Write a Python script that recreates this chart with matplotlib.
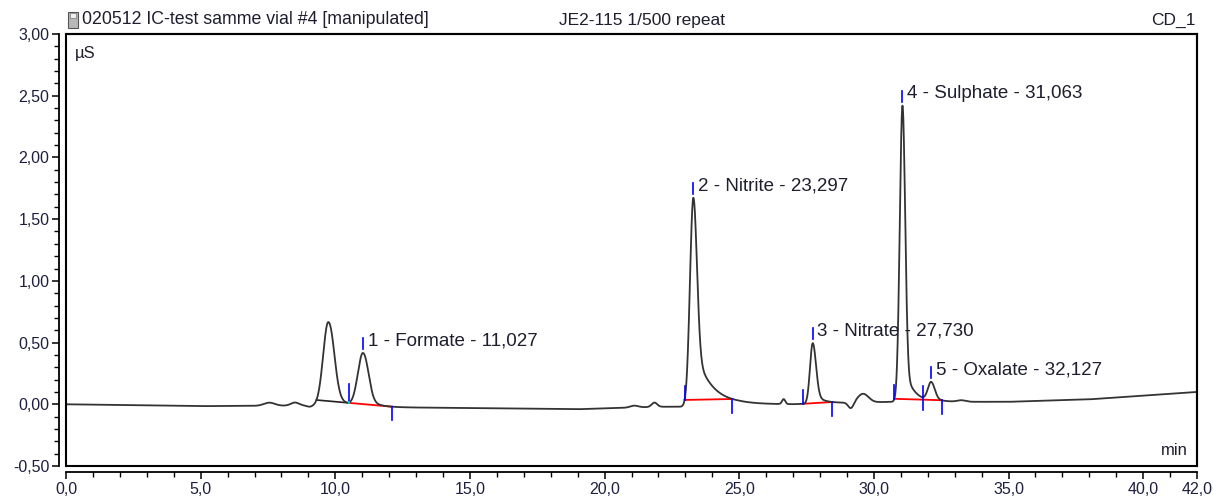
import numpy as np
import matplotlib
matplotlib.use("Agg")
import matplotlib.pyplot as plt
from matplotlib.ticker import MultipleLocator, FixedLocator, FuncFormatter
from matplotlib.patches import Rectangle

plt.rcParams['font.family'] = ['Liberation Sans', 'DejaVu Sans']

# ---------------- data ----------------
header_left = "020512 IC-test samme vial #4 [manipulated]"
header_mid = "JE2-115 1/500 repeat"
header_right = "CD_1"
y_unit = "µS"
x_unit = "min"

# baseline drift knots (min, µS)
base_t = [0.0, 5.0, 9.0, 12.0, 15.0, 19.0, 22.0, 23.0, 25.0, 27.0, 28.5, 30.7, 33.0, 35.0, 38.0, 42.0]
base_v = [0.0, -0.015, -0.01, -0.025, -0.03, -0.04, -0.02, -0.02, 0.0, 0.0, 0.01, 0.02, 0.02, 0.02, 0.04, 0.10]

# chromatographic peaks (retention time, height above baseline, shape)
peak_rt = [9.74, 11.027, 23.297, 27.730, 31.063, 32.127]
peak_h = [0.68, 0.43, 1.69, 0.49, 2.40, 0.15]
peak_sl = [0.19, 0.19, 0.125, 0.10, 0.10, 0.12]
peak_sr = [0.20, 0.19, 0.13, 0.12, 0.10, 0.13]
tail_a = [0.15, 0.08, 0.51, 0.10, 0.37, 0.03]
tail_tau = [0.40, 0.40, 0.60, 0.30, 0.31, 0.30]

# small baseline disturbances
bump_t = [7.55, 8.50, 9.05, 21.10, 21.85, 26.65, 29.15, 29.60, 33.25]
bump_h = [0.025, 0.025, -0.01, 0.015, 0.035, 0.04, -0.05, 0.07, 0.012]
bump_w = [0.20, 0.15, 0.10, 0.15, 0.10, 0.06, 0.10, 0.20, 0.15]

# identified peaks (index into peak lists) and labels
label_idx = [1, 2, 3, 4, 5]
label_text = ["1 - Formate - 11,027", "2 - Nitrite - 23,297", "3 - Nitrate - 27,730",
              "4 - Sulphate - 31,063", "5 - Oxalate - 32,127"]

# integration baselines
seg_start = [9.30, 22.97, 27.38, 30.76]
seg_end = [12.10, 24.75, 28.46, 32.52]
seg_red_start = [10.52, 22.97, 27.38, 30.76]
start_marks = [22.97, 27.38, 30.76]
end_marks = [12.10, 24.75, 28.46, 32.52]
drop_marks = [10.52, 31.84]

y_ticks = [-0.5, 0.0, 0.5, 1.0, 1.5, 2.0, 2.5, 3.0]
x_ticks = [0, 5, 10, 15, 20, 25, 30, 35, 40, 42]

# ---------------- build trace ----------------
t = np.linspace(0, 42, 8401)
trace = np.interp(t, base_t, base_v)
for rt, h, sl, sr, a, tau in zip(peak_rt, peak_h, peak_sl, peak_sr, tail_a, tail_tau):
    d = t - rt
    core = np.where(d < 0, np.exp(-0.5 * (d / sl) ** 2), np.exp(-0.5 * (d / sr) ** 2))
    tail = np.where(d > 0, a * np.exp(-np.clip(d, 0, None) / tau) * (1 - np.exp(-(d / 0.2) ** 2)), 0.0)
    trace += h * core + tail
for bt, bh, bw in zip(bump_t, bump_h, bump_w):
    trace += bh * np.exp(-0.5 * ((t - bt) / bw) ** 2)


def val(x):
    return float(np.interp(x, t, trace))


# ---------------- figure ----------------
W, H = 1213, 497
fig = plt.figure(figsize=(W / 100, H / 100), dpi=100)
ax = fig.add_axes([66 / W, 1 - 466 / H, (1197 - 66) / W, (466 - 34) / H])

ax.plot(t, trace, color='#333333', lw=1.3, zorder=3)

# integration baselines
for s, e, rs in zip(seg_start, seg_end, seg_red_start):
    ys, ye = val(s), val(e)
    def bl(x, s=s, e=e, ys=ys, ye=ye):
        return ys + (ye - ys) * (x - s) / (e - s)
    if rs > s:
        ax.plot([s, rs], [bl(s), bl(rs)], color='#222222', lw=1.2, zorder=2)
    ax.plot([rs, e], [bl(rs), bl(e)], color='#ff0000', lw=1.3, zorder=2)


def base_at(x):
    for s, e in zip(seg_start, seg_end):
        if s - 1e-6 <= x <= e + 1e-6:
            ys, ye = val(s), val(e)
            return ys + (ye - ys) * (x - s) / (e - s)
    return val(x)


blue = '#0000ff'
for x in start_marks:
    b = base_at(x)
    ax.plot([x, x], [b, b + 0.11], color=blue, lw=1.2, zorder=4)
for x in end_marks:
    b = base_at(x)
    ax.plot([x, x], [b, b - 0.11], color=blue, lw=1.2, zorder=4)
# drop lines
x = drop_marks[0]
b = base_at(x)
ax.plot([x, x], [val(x), b + 0.15], color=blue, lw=1.2, zorder=4)
ax.plot([x, x], [b, val(x)], color='#00c8c8', lw=1.4, zorder=5)
x = drop_marks[1]
b = base_at(x)
ax.plot([x, x], [b - 0.08, b + 0.11], color=blue, lw=1.2, zorder=4)

# peak apex marks and labels
for i, txt in zip(label_idx, label_text):
    rt = peak_rt[i]
    top = val(rt)
    ax.plot([rt, rt], [top + 0.03, top + 0.12], color=blue, lw=1.2, zorder=4)
    ax.text(rt + 0.17, top + 0.095, txt, fontsize=13.5, color='#1e1e2e',
            ha='left', va='center', zorder=6)

ax.set_xlim(0, 42)
ax.set_ylim(-0.5, 3.0)

# axes styling: box + detached axis lines
for sp in ['top', 'right']:
    ax.spines[sp].set_linewidth(1.5)
ax.spines['left'].set_position(('outward', 5))
ax.spines['bottom'].set_position(('outward', 4.3))
ax.spines['left'].set_linewidth(1.3)
ax.spines['bottom'].set_linewidth(1.3)
ax.add_patch(Rectangle((0, 0), 1, 1, transform=ax.transAxes, fill=False,
                       edgecolor='black', lw=1.5, clip_on=False, zorder=7))

ax.yaxis.set_major_locator(FixedLocator(y_ticks))
ax.yaxis.set_minor_locator(MultipleLocator(0.1))
ax.xaxis.set_major_locator(FixedLocator(x_ticks))
ax.xaxis.set_minor_locator(MultipleLocator(1))
ax.yaxis.set_major_formatter(FuncFormatter(lambda v, p: f"{v:.2f}".replace('.', ',')))
ax.xaxis.set_major_formatter(FuncFormatter(lambda v, p: f"{v:.1f}".replace('.', ',')))
ax.tick_params(axis='both', which='major', length=5, width=1.1, labelsize=11.5,
               labelcolor='#1e1e3e', pad=2)
ax.tick_params(axis='both', which='minor', length=3.5, width=1.0)

ax.text(0.008, 0.955, y_unit, transform=ax.transAxes, fontsize=12, color='#1e1e2e',
        ha='left', va='center')
ax.text(0.992, 0.035, x_unit, transform=ax.transAxes, fontsize=12, color='#1e1e2e',
        ha='right', va='center')

# header
fig.text(82 / W, 1 - 20 / H, header_left, fontsize=12.8, color='#1e1e2e', ha='left', va='center')
fig.text(642 / W, 1 - 20 / H, header_mid, fontsize=12.5, color='#1e1e2e', ha='center', va='center')
fig.text(1196 / W, 1 - 20 / H, header_right, fontsize=12.5, color='#1e1e2e', ha='right', va='center')
# small document icon
fig.patches.append(Rectangle((68 / W, 1 - 28 / H), 10 / W, 16 / H, transform=fig.transFigure,
                             facecolor='#b8b8b8', edgecolor='#555555', lw=0.8))
fig.patches.append(Rectangle((70 / W, 1 - 18 / H), 6 / W, 5 / H, transform=fig.transFigure,
                             facecolor='#f0f0f0', edgecolor='#777777', lw=0.5))

fig.savefig('out.png', dpi=100)
